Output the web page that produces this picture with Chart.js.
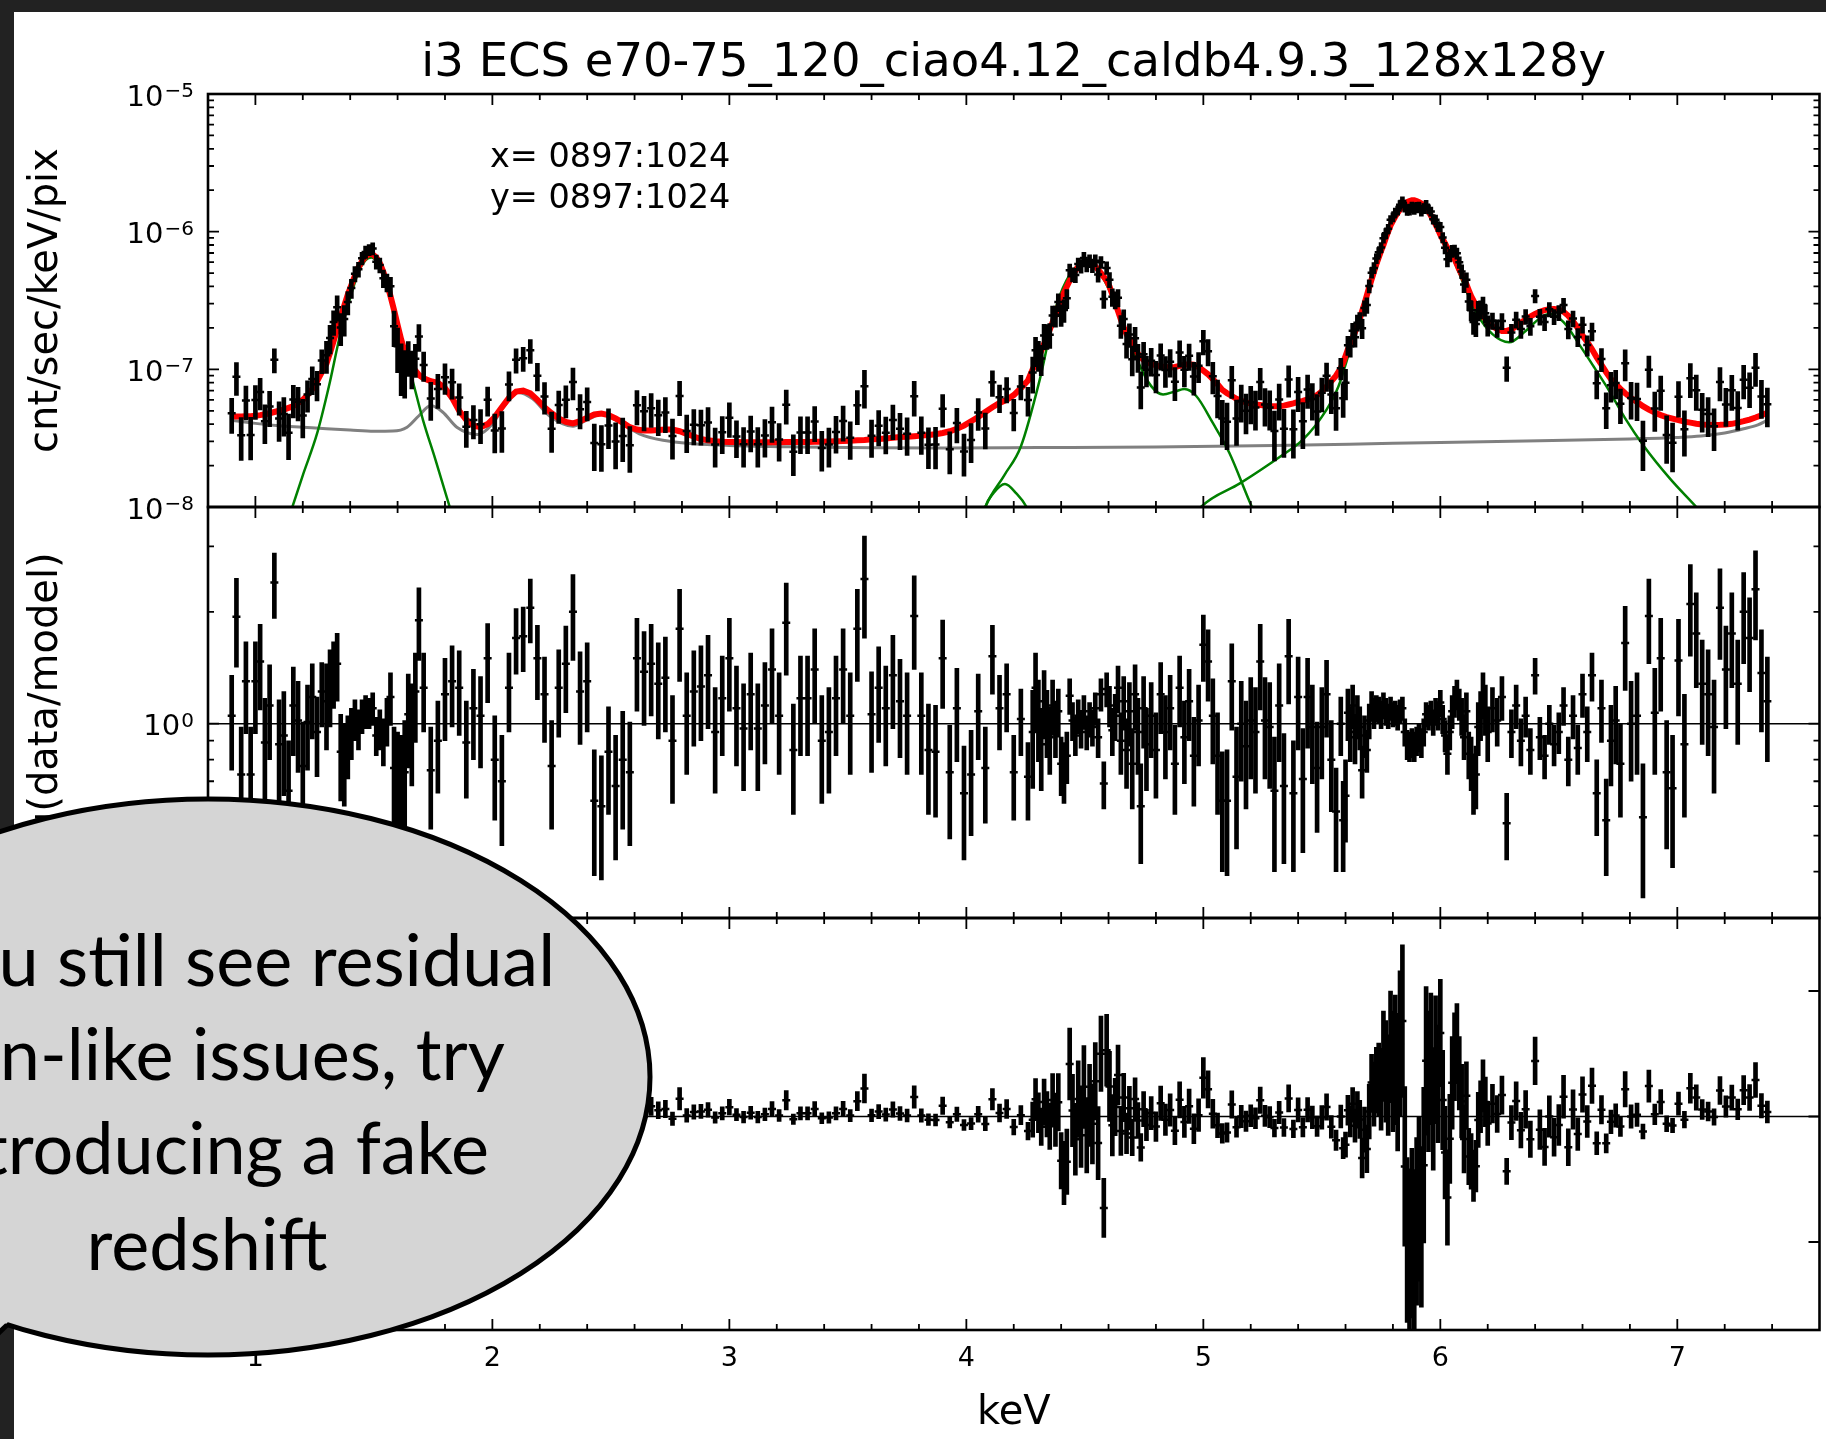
<!DOCTYPE html>
<html>
<head>
<meta charset="utf-8">
<title>i3 ECS spectrum</title>
<script src="https://cdn.jsdelivr.net/npm/chart.js@4.4.1/dist/chart.umd.min.js"></script>
<style>
  html, body { margin: 0; padding: 0; }
  body { background: #222; width: 1826px; height: 1439px; overflow: hidden; position: relative; }
  #paper { position: absolute; left: 14px; top: 12px; width: 1812px; height: 1427px; background: #fff; }
  canvas { position: absolute; left: 0; top: 0; }
</style>
</head>
<body>
<div id="paper"></div>
<canvas id="spec" width="1826" height="1439"></canvas>
<canvas id="ratio" width="1826" height="1439"></canvas>
<canvas id="resid" width="1826" height="1439"></canvas>
<script>
// bin centres in keV
const energy = [
  0.90,0.92,0.94,0.96,0.98,1.00,1.02,1.04,1.06,1.08,1.10,1.12,1.14,1.16,1.18,1.20,1.22,1.24,1.26,1.28,
  1.300,1.315,1.330,1.345,1.360,1.375,1.390,1.405,1.420,1.435,1.450,1.465,1.480,1.495,1.510,1.525,1.540,1.555,1.570,1.585,1.600,1.615,1.630,1.645,1.660,1.675,1.690,
  1.71,1.74,1.77,1.80,1.83,1.86,1.89,1.92,1.95,1.98,
  2.01,2.04,2.07,2.10,2.13,2.16,2.19,2.22,2.25,2.28,
  2.31,2.34,2.37,2.40,2.43,2.46,2.49,2.52,2.55,2.58,
  2.61,2.64,2.67,2.70,2.73,2.76,2.79,2.82,2.85,2.88,
  2.91,2.94,2.97,3.00,3.03,3.06,3.09,3.12,3.15,3.18,
  3.21,3.24,3.27,3.30,3.33,3.36,3.39,3.42,3.45,3.48,
  3.51,3.54,3.57,3.60,3.63,3.66,3.69,3.72,3.75,3.78,
  3.81,3.84,3.87,3.90,3.93,3.96,3.99,4.02,4.05,4.08,
  4.11,4.14,4.17,4.20,4.23,4.26,
  4.280,4.292,4.304,4.316,4.328,4.340,4.352,4.364,4.376,4.388,
  4.400,4.412,4.424,4.436,4.448,4.460,4.472,4.484,4.496,4.508,
  4.520,4.532,4.544,4.556,4.568,4.580,4.592,4.604,4.616,4.628,
  4.640,4.652,4.664,4.676,4.688,4.700,4.712,4.724,4.736,4.748,4.760,
  4.78,4.80,4.82,4.84,4.86,4.88,4.90,4.92,4.94,4.96,
  4.98,5.00,5.02,5.04,5.06,5.08,5.10,5.12,5.14,5.16,
  5.18,5.20,5.22,5.24,5.26,5.28,5.30,5.32,5.34,5.36,
  5.38,5.40,5.42,5.44,5.46,5.48,5.50,5.52,5.54,5.56,
  5.58,5.59,5.60,5.61,5.62,5.63,5.64,5.65,5.66,5.67,
  5.68,5.69,5.70,5.71,5.72,5.73,5.74,5.75,5.76,5.77,
  5.78,5.79,5.80,5.81,5.82,5.83,5.84,5.85,5.86,5.87,
  5.88,5.89,5.90,5.91,5.92,5.93,5.94,5.95,5.96,5.97,
  5.98,5.99,6.00,6.01,6.02,6.03,6.04,6.05,6.06,6.07,
  6.08,6.09,6.10,6.11,6.12,6.13,6.14,6.15,6.16,6.17,
  6.18,6.19,6.20,
  6.22,6.24,6.26,6.28,6.30,6.32,6.34,6.36,6.38,6.40,
  6.42,6.44,6.46,6.48,6.50,6.52,6.54,6.56,6.58,6.60,
  6.62,6.64,6.66,6.68,6.70,6.72,6.74,6.76,
  6.780,6.805,6.830,6.855,6.880,6.905,6.930,6.955,6.980,7.005,
  7.030,7.055,7.080,7.105,7.130,7.155,7.180,7.205,7.230,7.255,
  7.280,7.305,7.330,7.355,7.380
];

// total model (red) in each bin, units of 1e-8 cnt/sec/keV/pix
const model = [
  4.56,4.55,4.55,4.56,4.57,4.60,4.65,4.72,4.80,4.90,5.00,5.10,5.25,5.40,5.70,6.00,6.50,7.20,8.20,9.50,
  11.0,13.2,16.0,19.5,24.0,29.0,35.0,41.0,48.0,55.0,61.0,66.0,69.0,68.5,65.0,59.0,51.0,42.0,34.0,27.0,21.0,16.5,13.4,11.7,10.6,9.8,9.1,
  8.6,8.2,8.0,7.3,6.2,5.0,4.3,3.9,3.8,4.0,
  4.5,5.3,6.2,6.9,7.0,6.7,6.0,5.3,4.8,4.4,
  4.15,4.05,4.2,4.45,4.7,4.77,4.65,4.4,4.1,3.8,
  3.65,3.6,3.6,3.62,3.65,3.65,3.55,3.4,3.25,3.12,
  3.05,3.0,2.98,2.97,2.96,2.95,2.95,2.95,2.95,2.95,
  2.95,2.96,2.96,2.97,2.97,2.98,2.98,2.99,3.0,3.01,
  3.03,3.05,3.07,3.1,3.12,3.15,3.18,3.22,3.24,3.27,
  3.3,3.33,3.38,3.45,3.55,3.7,3.9,4.2,4.5,4.9,
  5.3,5.7,6.0,6.5,7.3,8.3,
  10.0,11.0,12.2,13.6,15.3,17.2,19.4,22,25,28.5,
  32,36,40,44,48,52,55.5,58,59.5,60,
  59.5,58,56,53,50,47,44,40,35,30.5,
  26.5,23,20.2,18,16.6,15.2,14,13,12.3,11.7,11.3,
  11.0,10.7,10.5,10.4,10.3,10.4,10.6,10.8,10.9,10.8,
  10.4,9.8,9.2,8.5,7.8,7.1,6.7,6.4,6.1,5.9,
  5.75,5.65,5.55,5.5,5.45,5.4,5.4,5.4,5.45,5.55,
  5.65,5.8,5.9,6.05,6.2,6.5,6.9,7.5,8.2,9.0,
  10.2,11.2,12.5,14,15.5,17,18.6,20.8,23.3,26.5,
  30,34.5,39.5,45,51,58,65,72.5,80,90,
  100,111,120,129,137,145,152,159,164,167,
  169,169,167,164,160,155,148,140,131,122,
  113,104,95,88,82,76,71,67,63.5,58,
  53,49,45,41.5,37.5,34,31.5,29.3,27.4,25.8,
  24.4,23.2,22,
  20.5,19.6,19.0,19.0,19.5,20.5,21.8,23,24.2,25.3,
  26.2,26.9,27.3,27.4,27.2,26.2,24.5,22.3,20,17.6,
  15.8,14,12.2,10.8,9.5,8.5,7.8,7.2,
  6.7,6.2,5.8,5.4,5.1,4.85,4.65,4.5,4.38,4.27,
  4.17,4.1,4.03,3.98,3.95,3.94,3.95,3.97,4.02,4.1,
  4.2,4.32,4.47,4.64,4.84
];

// data / model in each bin
const ratio = [
  1.05,1.94,0.73,1.30,0.73,1.30,1.47,0.89,1.12,2.40,0.88,0.93,0.66,1.12,1.02,0.77,1.01,1.18,0.95,1.22,
  1.15,1.28,1.38,1.45,0.84,0.80,0.88,0.95,1.03,0.97,1.05,1.08,1.07,1.10,0.93,0.97,0.90,1.02,1.18,0.76,0.70,0.66,0.74,1.06,0.98,1.22,1.90,
  1.25,0.75,0.90,1.20,1.30,1.25,0.89,1.10,1.05,1.50,
  0.80,0.70,1.25,1.70,1.72,2.05,1.50,1.20,0.77,1.25,
  1.45,2.00,1.22,1.30,0.62,0.60,0.84,0.68,0.80,0.74,
  1.50,1.38,1.45,1.28,1.33,0.90,1.80,1.05,1.22,1.26,
  1.35,0.95,1.17,1.50,1.10,0.97,1.20,0.97,1.12,1.40,
  1.05,1.87,0.85,1.17,1.17,1.40,0.90,0.95,1.17,1.40,
  1.05,1.80,2.45,1.06,1.25,1.10,1.35,1.15,1.05,1.95,
  1.05,0.85,0.84,1.50,0.74,1.10,0.65,0.73,1.08,0.76,
  1.52,1.10,1.20,0.74,1.03,0.72,
  0.95,1.25,1.05,0.88,1.15,1.02,0.92,1.12,0.98,1.08,
  0.78,0.75,0.82,1.19,1.02,0.93,1.05,0.97,1.08,0.95,
  1.03,0.98,1.10,0.92,1.20,0.69,1.24,1.12,0.96,1.05,
  1.25,0.90,1.15,0.85,1.08,0.78,1.20,0.95,0.60,1.10,0.88,
  1.05,0.85,1.20,0.95,1.10,0.78,1.25,0.92,1.15,0.82,
  1.02,1.63,1.47,1.05,0.82,0.62,0.62,1.30,0.72,1.00,
  0.87,1.02,0.95,1.47,1.02,0.98,0.66,1.12,0.68,1.52,
  0.65,1.18,0.71,1.18,0.98,0.76,0.98,1.20,0.80,0.58,
  1.00,0.55,0.64,1.07,0.95,1.12,0.92,1.05,0.98,0.75,
  0.93,0.85,1.02,1.12,1.07,1.10,1.09,1.06,1.12,1.08,
  1.05,1.10,1.06,1.07,1.04,1.08,1.10,0.95,0.88,0.87,
  0.89,0.87,0.90,0.92,0.89,0.95,1.06,1.04,1.07,1.01,
  1.08,1.05,1.14,1.03,0.93,0.83,0.95,1.08,1.15,1.20,
  1.13,1.05,0.92,1.08,0.83,0.79,0.70,0.73,0.98,1.06,
  1.20,1.10,0.95,
  1.10,1.02,1.18,0.54,0.95,1.12,0.90,1.05,0.85,1.35,
  0.92,0.82,1.00,0.88,0.95,1.12,0.80,1.05,0.86,1.20,
  0.95,1.35,0.65,1.10,0.55,0.90,1.02,0.78,
  1.65,1.00,1.05,0.56,1.95,1.07,1.50,0.74,0.67,1.48,
  0.88,2.10,1.75,1.28,1.20,0.98,2.05,1.40,1.75,1.28,
  2.00,1.70,2.30,1.37,1.15
];

// 1-sigma error of data / model
const ratioErr = [
  0.30,0.52,0.25,0.36,0.25,0.36,0.38,0.28,0.32,0.48,0.28,0.29,0.24,0.30,0.28,0.24,0.26,0.27,0.23,0.24,
  0.30,0.30,0.28,0.30,0.22,0.20,0.17,0.15,0.13,0.12,0.11,0.11,0.10,0.11,0.11,0.12,0.13,0.15,0.19,0.22,0.25,0.27,0.28,0.30,0.30,0.33,0.42,
  0.30,0.23,0.25,0.30,0.32,0.32,0.26,0.30,0.29,0.36,
  0.25,0.23,0.30,0.34,0.34,0.40,0.34,0.31,0.25,0.33,
  0.38,0.52,0.34,0.35,0.23,0.22,0.27,0.25,0.28,0.27,
  0.42,0.39,0.40,0.37,0.38,0.29,0.50,0.32,0.35,0.36,
  0.38,0.30,0.35,0.42,0.33,0.31,0.35,0.31,0.34,0.40,
  0.32,0.52,0.28,0.35,0.35,0.40,0.29,0.30,0.35,0.40,
  0.32,0.50,0.75,0.32,0.36,0.33,0.38,0.34,0.32,0.55,
  0.32,0.28,0.28,0.40,0.25,0.31,0.22,0.23,0.28,0.22,
  0.32,0.25,0.25,0.19,0.21,0.17,
  0.28,0.30,0.26,0.22,0.24,0.21,0.19,0.19,0.17,0.16,
  0.14,0.14,0.13,0.13,0.12,0.11,0.11,0.11,0.11,0.10,
  0.11,0.11,0.11,0.11,0.12,0.10,0.13,0.14,0.14,0.15,
  0.18,0.17,0.19,0.18,0.21,0.19,0.24,0.22,0.18,0.24,0.22,
  0.24,0.22,0.26,0.24,0.25,0.21,0.27,0.23,0.25,0.22,
  0.25,0.33,0.32,0.27,0.25,0.22,0.23,0.34,0.26,0.30,
  0.28,0.31,0.30,0.38,0.31,0.31,0.26,0.33,0.26,0.39,
  0.25,0.33,0.26,0.32,0.29,0.25,0.27,0.28,0.22,0.18,
  0.18,0.15,0.16,0.17,0.16,0.15,0.14,0.14,0.13,0.12,
  0.12,0.11,0.11,0.10,0.10,0.09,0.09,0.09,0.09,0.09,
  0.08,0.08,0.08,0.08,0.08,0.08,0.08,0.08,0.08,0.08,
  0.08,0.08,0.08,0.08,0.08,0.08,0.08,0.08,0.08,0.08,
  0.09,0.09,0.09,0.09,0.09,0.10,0.10,0.11,0.11,0.11,
  0.11,0.12,0.12,0.13,0.12,0.13,0.13,0.14,0.16,0.16,
  0.17,0.17,0.16,
  0.15,0.15,0.16,0.11,0.14,0.15,0.13,0.13,0.12,0.15,
  0.12,0.11,0.12,0.11,0.12,0.13,0.12,0.14,0.13,0.16,
  0.16,0.20,0.15,0.21,0.16,0.22,0.24,0.22,
  0.42,0.30,0.32,0.22,0.50,0.34,0.42,0.28,0.26,0.43,
  0.32,0.58,0.50,0.40,0.38,0.33,0.56,0.43,0.50,0.40,
  0.55,0.48,0.62,0.42,0.36
];

// continuum component (grey), units of 1e-8
const contE = [0.90,1.00,1.10,1.20,1.30,1.40,1.50,1.58,1.64,1.69,1.74,1.79,1.85,1.94,2.00,2.05,2.11,2.17,2.24,2.34,2.40,2.46,2.53,2.62,2.72,2.85,3.00,3.30,3.60,3.90,4.30,4.80,5.30,5.80,6.30,6.80,7.00,7.10,7.20,7.28,7.34,7.38];
const contV = [4.27,4.05,3.90,3.80,3.70,3.62,3.55,3.56,3.80,4.60,5.46,4.90,3.80,3.36,4.00,5.40,6.80,6.10,4.60,3.86,4.30,4.70,4.20,3.40,3.05,2.88,2.80,2.73,2.69,2.68,2.70,2.73,2.80,2.90,3.00,3.12,3.20,3.28,3.45,3.70,3.95,4.27];

// line components (green), units of 1e-8
const alE = [1.10,1.156,1.20,1.261,1.31,1.36,1.40,1.435,1.465,1.489,1.515,1.535,1.557,1.60,1.633,1.67,1.707,1.76,1.82,1.87];
const alV = [0.5,1.0,1.7,3.45,7.5,18.6,33,51,62,65,60,52,38,21,13.2,7.5,4.3,2.2,1.0,0.5];
const smE = [4.05,4.08,4.114,4.163,4.21,4.254,4.29];
const smV = [0.6,1.0,1.26,1.47,1.26,1.0,0.7];
const tiE = [4.04,4.08,4.16,4.23,4.31,4.38,4.44,4.48,4.51,4.54,4.58,4.65,4.72,4.78,4.83,4.88,4.92,4.97,5.04,5.11,5.205,5.25];
const tiV = [0.6,1.0,1.7,2.75,8.45,29,50,58,59.5,56,45,24.5,11.8,7.55,6.57,6.9,7.2,6.4,4.08,2.47,1.0,0.7];
const mnE = [4.95,4.99,5.156,5.325,5.42,5.52,5.57,5.62,5.67,5.72,5.76,5.79,5.83,5.86,5.88,5.90,5.93,5.96,6.00,6.06,6.11,6.16,6.22,6.29,6.36,6.42,6.46,6.52,6.59,6.65,6.71,6.78,6.86,6.97,7.08,7.13];
const mnV = [0.8,1.0,1.49,2.33,3.08,5.1,7.5,14,26,48,77,108,143,162,165,163,150,128,92,60,37,24.5,18,15.7,19,23.5,25.2,22,14.8,10.3,7.1,4.4,2.75,1.6,1.0,0.8];

// axis ticks
const xMajor = [1, 2, 3, 4, 5, 6, 7];
const fluxDecades = [1e-8, 1e-7, 1e-6, 1e-5];
const ratioMajor = [1];
const ratioMinor = [0.4, 0.5, 0.6, 0.7, 0.8, 0.9, 2, 3];
const residMajor = [-20, 0, 20];

const titleText = 'i3 ECS e70-75_120_ciao4.12_caldb4.9.3_128x128y';
const stampLines = ['x= 0897:1024', 'y= 0897:1024'];
const calloutLines = ['If you still see residual', 'gain-like issues, try', 'introducing a fake', 'redshift'];

const E8 = 1e-8;
const xMinor = [];
for (let k = 5; k <= 37; k++) if (k % 5 !== 0) xMinor.push(k / 5);
const fluxMinor = [];
[-8, -7, -6].forEach(p => { for (let m = 2; m <= 9; m++) fluxMinor.push(m * Math.pow(10, p)); });

const pts = f => energy.map((e, i) => ({x: e, y: f(i)}));
const curve = (xs, ys, k) => xs.map((e, i) => ({x: e, y: ys[i] * k}));

Chart.defaults.font.family = '"DejaVu Sans", sans-serif';
Chart.defaults.color = '#000';
Chart.defaults.animation = false;
Chart.defaults.events = [];
Chart.defaults.plugins.legend.display = false;
Chart.defaults.plugins.tooltip.enabled = false;

// inward ticks on all four sides plus the box
function frame(yMajor, yMinor) {
  return {
    id: 'frame',
    afterDatasetsDraw(chart) {
      const {ctx, chartArea: a} = chart;
      const sx = chart.scales.x, sy = chart.scales.y;
      ctx.save();
      ctx.strokeStyle = '#000';
      ctx.lineWidth = 1.8;
      ctx.beginPath();
      const xt = (v, len) => {
        const p = sx.getPixelForValue(v);
        ctx.moveTo(p, a.top); ctx.lineTo(p, a.top + len);
        ctx.moveTo(p, a.bottom); ctx.lineTo(p, a.bottom - len);
      };
      const yt = (v, len) => {
        const p = sy.getPixelForValue(v);
        ctx.moveTo(a.left, p); ctx.lineTo(a.left + len, p);
        ctx.moveTo(a.right, p); ctx.lineTo(a.right - len, p);
      };
      xMinor.forEach(v => xt(v, 6));
      xMajor.forEach(v => xt(v, 11));
      yMinor.forEach(v => yt(v, 6));
      yMajor.forEach(v => yt(v, 11));
      ctx.stroke();
      ctx.lineWidth = 2.6;
      ctx.strokeRect(a.left, a.top, a.right - a.left, a.bottom - a.top);
      ctx.restore();
    }
  };
}

// 10^n labels with a raised, smaller exponent
function powLabels(values) {
  return {
    id: 'powLabels',
    afterDraw(chart) {
      const {ctx, chartArea: a} = chart;
      const sy = chart.scales.y;
      const right = a.left - 14;
      ctx.save();
      ctx.fillStyle = '#000';
      ctx.textAlign = 'right';
      values.forEach(v => {
        const y = sy.getPixelForValue(v);
        const exp = String(Math.round(Math.log10(v))).replace('-', '\u2212');
        ctx.font = '20px "DejaVu Sans"';
        ctx.fillText(exp, right, y + 3);
        const w = ctx.measureText(exp).width;
        ctx.font = '29px "DejaVu Sans"';
        ctx.fillText('10', right - w - 1, y + 11.5);
      });
      ctx.restore();
    }
  };
}

function xAxis(show) {
  const ax = {
    type: 'linear', min: 0.8, max: 7.6, offset: false, display: show,
    grid: {display: false, drawTicks: false}, border: {display: false},
    afterBuildTicks: s => { s.ticks = xMajor.map(v => ({value: v})); },
    ticks: {padding: 13, font: {size: 27}, maxRotation: 0, autoSkip: false}
  };
  if (show) {
    ax.title = {display: true, text: 'keV', font: {size: 40}, padding: {top: 0, bottom: 1}};
    ax.afterFit = s => { s.height = 109; };
  }
  return ax;
}

function yAxis(extra) {
  return Object.assign({
    position: 'left',
    grid: {display: false, drawTicks: false}, border: {display: false},
    ticks: {display: false},
    afterFit: s => { s.width = 194; }
  }, extra);
}

const errBars = (data) => ({
  type: 'bar', data, backgroundColor: '#000', borderWidth: 0,
  barThickness: 4, grouped: false, clip: 0, order: 1
});
const markers = (data) => ({
  type: 'scatter', data, pointStyle: 'line', pointRadius: 4,
  pointBorderWidth: 2.5, borderColor: '#000', backgroundColor: '#000',
  showLine: false, clip: 0, order: 0
});
const line = (data, color, width, order, smooth) => ({
  type: 'line', data, borderColor: color, borderWidth: width, pointRadius: 0,
  fill: false, clip: 0, order, cubicInterpolationMode: smooth ? 'monotone' : 'default', tension: 0
});

// top panel: spectrum
new Chart(document.getElementById('spec'), {
  type: 'bar',
  data: {
    datasets: [
      line(curve(contE, contV, E8), '#808080', 3, 4, true),
      line(curve(alE, alV, E8), '#008000', 2.5, 3, true),
      line(curve(smE, smV, E8), '#008000', 2.5, 3, true),
      line(curve(tiE, tiV, E8), '#008000', 2.5, 3, true),
      line(curve(mnE, mnV, E8), '#008000', 2.5, 3, true),
      line(pts(i => model[i] * E8), '#ff0000', 6, 2, false),
      errBars(pts(i => [model[i] * (ratio[i] - ratioErr[i]) * E8, model[i] * (ratio[i] + ratioErr[i]) * E8])),
      markers(pts(i => model[i] * ratio[i] * E8))
    ]
  },
  options: {
    responsive: false,
    devicePixelRatio: 1,
    layout: {padding: {left: 14, right: 6, top: 0, bottom: 932}},
    plugins: {
      title: {display: true, text: titleText, fullSize: false, font: {size: 46.5, weight: 'normal'}, padding: {top: 36, bottom: 2.2}}
    },
    scales: {
      x: xAxis(false),
      y: yAxis({
        type: 'logarithmic', min: 1e-8, max: 1e-5,
        title: {display: true, text: 'cnt/sec/keV/pix', font: {size: 40}, padding: {top: 9, bottom: 0}}
      })
    }
  },
  plugins: [frame(fluxDecades, fluxMinor), powLabels(fluxDecades), {
    id: 'stamp',
    afterDraw(chart) {
      const {ctx, chartArea: a} = chart;
      ctx.save();
      ctx.font = '33.5px "DejaVu Sans"';
      ctx.fillStyle = '#000';
      stampLines.forEach((t, i) => ctx.fillText(t, a.left + 282, a.top + 73 + i * 41));
      ctx.restore();
    }
  }]
});

// middle panel: data / model
new Chart(document.getElementById('ratio'), {
  type: 'bar',
  data: {
    datasets: [
      line([{x: 0.8, y: 1}, {x: 7.6, y: 1}], '#000', 1.5, 2, false),
      errBars(pts(i => [Math.max(ratio[i] - ratioErr[i], 0.05), ratio[i] + ratioErr[i]])),
      markers(pts(i => ratio[i]))
    ]
  },
  options: {
    responsive: false,
    devicePixelRatio: 1,
    layout: {padding: {left: 14, right: 6, top: 507, bottom: 521}},
    scales: {
      x: xAxis(false),
      y: yAxis({
        type: 'logarithmic', min: 0.326, max: 3.83,
        title: {display: true, text: 'log(data/model)', font: {size: 40}, padding: {top: 9, bottom: 0}}
      })
    }
  },
  plugins: [frame(ratioMajor, ratioMinor), powLabels(ratioMajor)]
});

// bottom panel: data - model, with the speech bubble on top
new Chart(document.getElementById('resid'), {
  type: 'bar',
  data: {
    datasets: [
      line([{x: 0.8, y: 0}, {x: 7.6, y: 0}], '#000', 1.5, 2, false),
      errBars(pts(i => [model[i] * (ratio[i] - 1 - ratioErr[i]), model[i] * (ratio[i] - 1 + ratioErr[i])])),
      markers(pts(i => model[i] * (ratio[i] - 1)))
    ]
  },
  options: {
    responsive: false,
    devicePixelRatio: 1,
    layout: {padding: {left: 14, right: 6, top: 918, bottom: 0}},
    scales: {
      x: xAxis(true),
      y: yAxis({type: 'linear', min: -34.02, max: 31.63})
    }
  },
  plugins: [frame(residMajor, []), {
    id: 'callout',
    afterDraw(chart) {
      const ctx = chart.ctx;
      ctx.save();
      ctx.beginPath();
      ctx.ellipse(208, 1077, 442, 278, 0, 0, 2 * Math.PI);
      ctx.fillStyle = '#d5d5d5';
      ctx.fill();
      ctx.lineWidth = 5;
      ctx.strokeStyle = '#000';
      ctx.stroke();
      // small tail leaving the left edge
      ctx.beginPath();
      ctx.moveTo(8, 1200); ctx.lineTo(8, 1322); ctx.lineTo(-40, 1368); ctx.lineTo(-40, 1200); ctx.closePath();
      ctx.fill();
      ctx.beginPath();
      ctx.moveTo(7, 1325); ctx.lineTo(-40, 1370);
      ctx.stroke();
      ctx.fillStyle = '#000';
      ctx.font = '72px Lato';
      ctx.textAlign = 'center';
      const base = [986, 1080, 1174, 1270];
      calloutLines.forEach((t, i) => ctx.fillText(t, 207, base[i]));
      ctx.restore();
    }
  }]
});
</script>
</body>
</html>
